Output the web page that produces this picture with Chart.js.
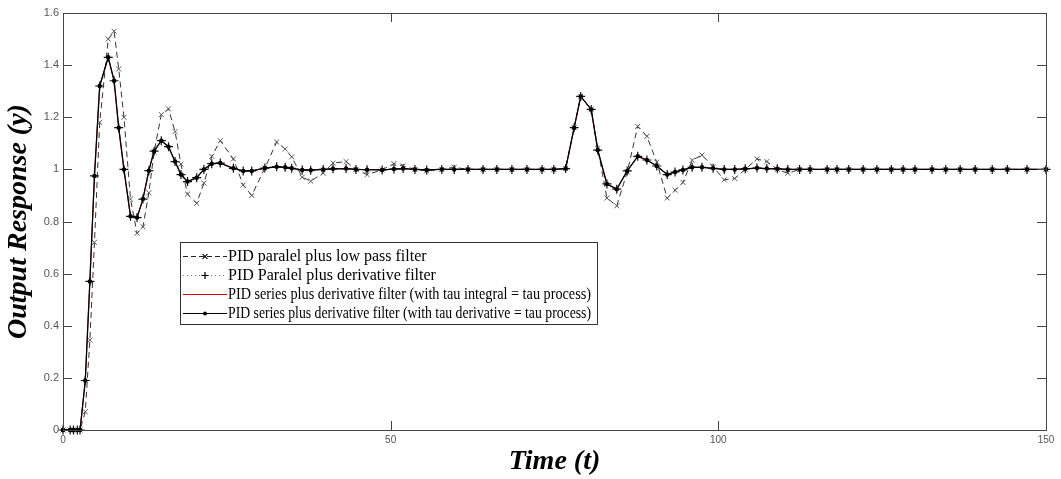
<!DOCTYPE html>
<html>
<head>
<meta charset="utf-8">
<script src="https://cdn.jsdelivr.net/npm/chart.js@4.4.0/dist/chart.umd.min.js"></script>
<style>
    html, body { margin: 0; padding: 0; background: #fff; }
    #wrap { width: 1061px; height: 479px; }
</style>
</head>
<body>
<div id="wrap"><canvas id="chart" width="1061" height="479"></canvas></div>
<script>
// simulation time of each plotted sample
const time = [
    0, 1.1, 1.6, 2.2, 2.6, 3.4, 4.1, 4.8, 5.6, 6.9,
    7.8, 8.5, 9.3, 10.3, 11.3, 12.2, 13.1, 13.9, 15.0, 16.1,
    17.1, 18.0, 19.0, 20.4, 21.5, 22.7, 24.0, 26.0, 27.5, 28.8,
    30.8, 32.6, 33.9, 34.9, 36.5, 37.8, 39.7, 41.2, 43.2, 44.7,
    46.4, 48.7, 50.5, 51.9, 53.7, 55.5, 57.8, 59.7, 61.8, 64.1,
    66.2, 68.5, 70.8, 73.1, 74.9, 76.7, 78.0, 79.0, 80.6, 81.6,
    83.0, 84.5, 86.1, 87.7, 89.1, 90.6, 92.2, 93.4, 94.6, 96.0,
    97.5, 99.2, 100.9, 102.5, 104.1, 105.9, 107.4, 109.0, 110.6, 112.4,
    114.0, 116.6, 118.1, 119.9, 122.1, 124.2, 126.4, 128.2, 130.0, 132.6,
    134.7, 136.9, 139.2, 141.8, 144.1, 147.1, 150
];

// PID paralel plus low pass filter
const lowPassResp = [
    0, 0, 0, 0, 0, 0.07, 0.345, 0.72, 1.18, 1.50,
    1.53, 1.385, 1.20, 0.886, 0.755, 0.78, 0.91, 1.067, 1.21, 1.232,
    1.145, 1.02, 0.905, 0.87, 0.947, 1.05, 1.11, 1.04, 0.94, 0.90,
    1.005, 1.105, 1.078, 1.048, 0.97, 0.955, 0.986, 1.024, 1.03, 1.0,
    0.98, 0.998, 1.022, 1.013, 1.0, 0.994, 1.0, 1.008, 1.0, 1.0,
    1.0, 1.0, 1.0, 1.0, 1.0, 1.003, 1.16, 1.28, 1.23, 1.08,
    0.89, 0.86, 0.99, 1.165, 1.127, 1.028, 0.89, 0.92, 0.95, 1.035,
    1.055, 1.01, 0.96, 0.965, 1.0, 1.04, 1.03, 1.0, 0.985, 1.0,
    1.0, 1.0, 1.0, 1.0, 1.0, 1.0, 1.0, 1.0, 1.0, 1.0,
    1.0, 1.0, 1.0, 1.0, 1.0, 1.0, 1.0
];

// the three derivative filter versions lie on top of each other in the plot
const derivFilterResp = [
    0, 0, 0, 0, 0, 0.19, 0.57, 0.975, 1.32, 1.43,
    1.34, 1.16, 1.0, 0.82, 0.815, 0.886, 0.995, 1.07, 1.11, 1.087,
    1.03, 0.98, 0.953, 0.968, 1.0, 1.022, 1.024, 1.004, 0.994, 0.994,
    1.005, 1.01, 1.008, 1.004, 0.998, 0.997, 1.0, 1.002, 1.003, 1.0,
    0.999, 0.998, 1.001, 1.003, 1.0, 0.998, 1.0, 1.0, 1.0, 1.0,
    1.0, 1.0, 1.0, 1.0, 1.0, 1.003, 1.16, 1.28, 1.23, 1.074,
    0.944, 0.924, 0.994, 1.05, 1.036, 1.013, 0.98, 0.99, 0.998, 1.008,
    1.008, 1.004, 1.0, 1.0, 1.002, 1.005, 1.003, 1.002, 1.0, 1.0,
    1.0, 1.0, 1.0, 1.0, 1.0, 1.0, 1.0, 1.0, 1.0, 1.0,
    1.0, 1.0, 1.0, 1.0, 1.0, 1.0, 1.0
];

const seriesLabels = [
    'PID paralel plus low pass filter',
    'PID Paralel plus derivative filter',
    'PID series plus derivative filter (with tau integral = tau process)',
    'PID series plus derivative filter (with tau derivative = tau process)'
];

const xTicks = [0, 50, 100, 150];
const yTicks = [0, 0.2, 0.4, 0.6, 0.8, 1, 1.2, 1.4, 1.6];

const toPoints = values => values.map((v, i) => ({ x: time[i], y: v }));

const serif = "'Liberation Serif', 'Times New Roman', serif";
const sans = "'Liberation Sans', Arial, sans-serif";

// box around the axes with inward ticks, like matlab
const framePlugin = {
    id: 'frame',
    afterDatasetsDraw(chart) {
        const { ctx, chartArea: a, scales: { x, y } } = chart;
        ctx.save();
        ctx.strokeStyle = '#444';
        ctx.lineWidth = 1;
        ctx.strokeRect(Math.round(a.left) + 0.5, Math.round(a.top) + 0.5,
            Math.round(a.right - a.left), Math.round(a.bottom - a.top));
        ctx.beginPath();
        xTicks.forEach(v => {
            const px = Math.round(x.getPixelForValue(v)) + 0.5;
            ctx.moveTo(px, a.bottom); ctx.lineTo(px, a.bottom - 9);
            ctx.moveTo(px, a.top); ctx.lineTo(px, a.top + 9);
        });
        yTicks.forEach(v => {
            const py = Math.round(y.getPixelForValue(v)) + 0.5;
            ctx.moveTo(a.left, py); ctx.lineTo(a.left + 9, py);
            ctx.moveTo(a.right, py); ctx.lineTo(a.right - 9, py);
        });
        ctx.stroke();
        ctx.restore();
    }
};

// legend box inside the plot
const legendPlugin = {
    id: 'boxLegend',
    afterDraw(chart) {
        const { ctx, chartArea: a } = chart;
        const left = a.left + 117, top = a.top + 229;
        const w = 417, h = 82, rowH = 19;
        ctx.save();
        ctx.fillStyle = '#fff';
        ctx.fillRect(left, top, w, h);
        ctx.strokeStyle = '#333';
        ctx.lineWidth = 1;
        ctx.strokeRect(left + 0.5, top + 0.5, w, h);

        const styles = [
            { color: '#222', dash: [5, 3], marker: 'crossRot' },
            { color: '#777', dash: [1, 3], marker: 'cross' },
            { color: '#e00000', dash: [], marker: null },
            { color: '#000', dash: [], marker: 'circle' }
        ];
        ctx.font = '16px ' + serif;
        ctx.textBaseline = 'middle';
        seriesLabels.forEach((label, i) => {
            const cy = top + 14 + i * rowH;
            const s = styles[i];
            ctx.beginPath();
            ctx.setLineDash(s.dash);
            ctx.strokeStyle = s.color;
            ctx.moveTo(left + 3, cy + 0.5);
            ctx.lineTo(left + 47, cy + 0.5);
            ctx.stroke();
            ctx.setLineDash([]);
            if (s.marker) {
                Chart.helpers.drawPoint(ctx, {
                    pointStyle: s.marker,
                    radius: s.marker === 'circle' ? 1.5 : 3.5,
                    borderWidth: 1
                }, left + 25, cy + 0.5);
                ctx.strokeStyle = '#000';
                ctx.fillStyle = '#000';
                if (s.marker === 'circle') ctx.fill(); else ctx.stroke();
            }
            ctx.fillStyle = '#000';
            ctx.fillText(label, left + 48, cy + 1, w - 54);
        });
        ctx.restore();
    }
};

new Chart(document.getElementById('chart'), {
    type: 'line',
    data: {
        datasets: [
            {
                label: seriesLabels[3],
                data: toPoints(derivFilterResp),
                borderColor: '#000',
                backgroundColor: '#000',
                borderWidth: 1.3,
                pointStyle: 'circle',
                pointRadius: 1.6,
                order: 0
            },
            {
                label: seriesLabels[0],
                data: toPoints(lowPassResp),
                borderColor: '#333',
                borderDash: [6, 4],
                borderWidth: 1,
                pointStyle: 'crossRot',
                pointRadius: 3.5,
                pointBorderColor: '#555',
                pointBorderWidth: 1,
                order: 1
            },
            {
                label: seriesLabels[1],
                data: toPoints(derivFilterResp),
                borderColor: '#888',
                borderDash: [1, 3],
                borderWidth: 1,
                pointStyle: 'cross',
                pointRadius: 4.5,
                pointBorderColor: '#111',
                pointBorderWidth: 1.2,
                order: 2
            },
            {
                label: seriesLabels[2],
                data: toPoints(derivFilterResp),
                borderColor: '#e00000',
                borderWidth: 1,
                pointRadius: 0,
                order: 3
            }
        ]
    },
    options: {
        responsive: false,
        animation: false,
        clip: false,
        layout: { padding: { top: 13, right: 15, left: 0, bottom: 0 } },
        plugins: {
            legend: { display: false },
            tooltip: { enabled: false }
        },
        elements: { line: { tension: 0 } },
        scales: {
            x: {
                type: 'linear',
                min: 0,
                max: 150,
                afterBuildTicks: scale => { scale.ticks = xTicks.map(v => ({ value: v })); },
                grid: { display: false, drawTicks: false },
                border: { display: false },
                ticks: { color: '#555', font: { family: sans, size: 10 }, padding: 4, maxRotation: 0 },
                title: {
                    display: true,
                    text: 'Time (t)',
                    color: '#000',
                    font: { family: serif, size: 28, style: 'italic', weight: 'bold' },
                    padding: { top: 0, bottom: 0 }
                },
                afterFit: scale => { scale.height = 49; }
            },
            y: {
                min: 0,
                max: 1.6,
                afterBuildTicks: scale => { scale.ticks = yTicks.map(v => ({ value: v })); },
                grid: { display: false, drawTicks: false },
                border: { display: false },
                ticks: {
                    color: '#555',
                    font: { family: sans, size: 11 },
                    padding: 4,
                    callback: v => String(Math.round(v * 10) / 10)
                },
                title: {
                    display: true,
                    text: 'Output Response (y)',
                    color: '#000',
                    font: { family: serif, size: 28, style: 'italic', weight: 'bold' },
                    padding: { top: 2, bottom: 0 }
                },
                afterFit: scale => { scale.width = 63; }
            }
        }
    },
    plugins: [framePlugin, legendPlugin]
});
</script>
</body>
</html>
